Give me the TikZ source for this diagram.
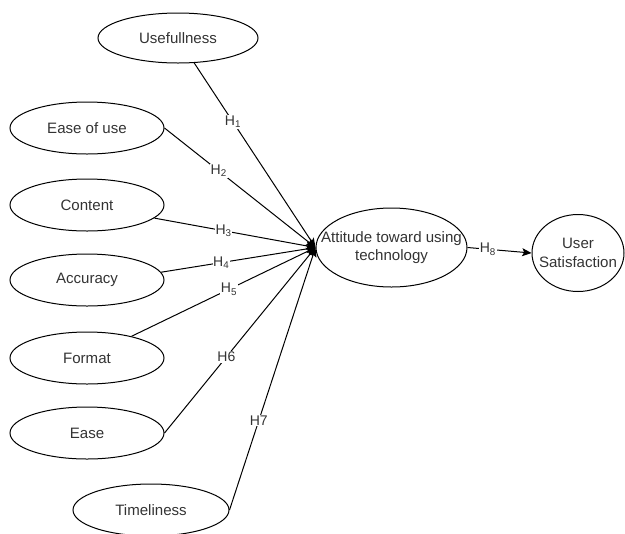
\documentclass[tikz,border=0pt]{standalone}
\usepackage{fontspec}
\setmainfont{Liberation Sans}
\usetikzlibrary{arrows.meta,shapes.geometric}

\begin{document}
\begin{tikzpicture}[x=0.75pt,y=-0.75pt,
  construct/.style={draw,ellipse,inner sep=0pt,line width=0.75pt,minimum width=115.5pt,minimum height=39pt,
    text=black!80,font=\fontsize{11.3}{13.8}\selectfont,align=center},
  hyp/.style={-{Stealth[length=7pt,width=6pt,inset=1.5pt]},line width=0.75pt},
  hlab/.style={fill=white,inner sep=0.5pt,text=black!80,font=\fontsize{10.5}{12}\selectfont}]
\useasboundingbox (0,0) rectangle (625,533);
% constructs
\node[construct,minimum width=120pt,minimum height=37.5pt] (use) at (178,38) {Usefullness};
\node[construct] (eou) at (87,128) {Ease of use};
\node[construct] (con) at (87,205) {Content};
\node[construct] (acc) at (87,280) {Accuracy};
\node[construct] (fmt) at (87,358) {Format};
\node[construct] (eas) at (87,433) {Ease};
\node[construct,minimum width=117pt] (tim) at (151,510) {Timeliness};
\node[construct,inner xsep=-15pt,minimum width=113.25pt,minimum height=59.25pt] (att) at (391.5,247.5) {Attitude toward using\\technology};
\node[construct,inner xsep=-12pt,minimum width=69pt,minimum height=57.75pt] (sat) at (578,253) {User\\Satisfaction};
% hypotheses
\draw[hyp] (use.-57) -- node[hlab,pos=.32]{H\textsubscript{1}} (att.west);
\draw[hyp] (eou.east) -- node[hlab,pos=.36]{H\textsubscript{2}} (att.west);
\draw[hyp] (con.-11) -- node[hlab,pos=.43]{H\textsubscript{3}} (att.west);
\draw[hyp] (acc.6) -- node[hlab,pos=.39]{H\textsubscript{4}} (att.west);
\draw[hyp] (fmt.26) -- node[hlab,pos=.53]{H\textsubscript{5}} (att.west);
\draw[hyp] (eas.east) -- node[hlab,pos=.41]{H6} (att.west);
\draw[hyp] (tim.east) -- node[hlab,pos=.34]{H7} (att.west);
\draw[hyp] (att.east) -- node[hlab,pos=.32]{H\textsubscript{8}} (sat.west);
\end{tikzpicture}
\end{document}
